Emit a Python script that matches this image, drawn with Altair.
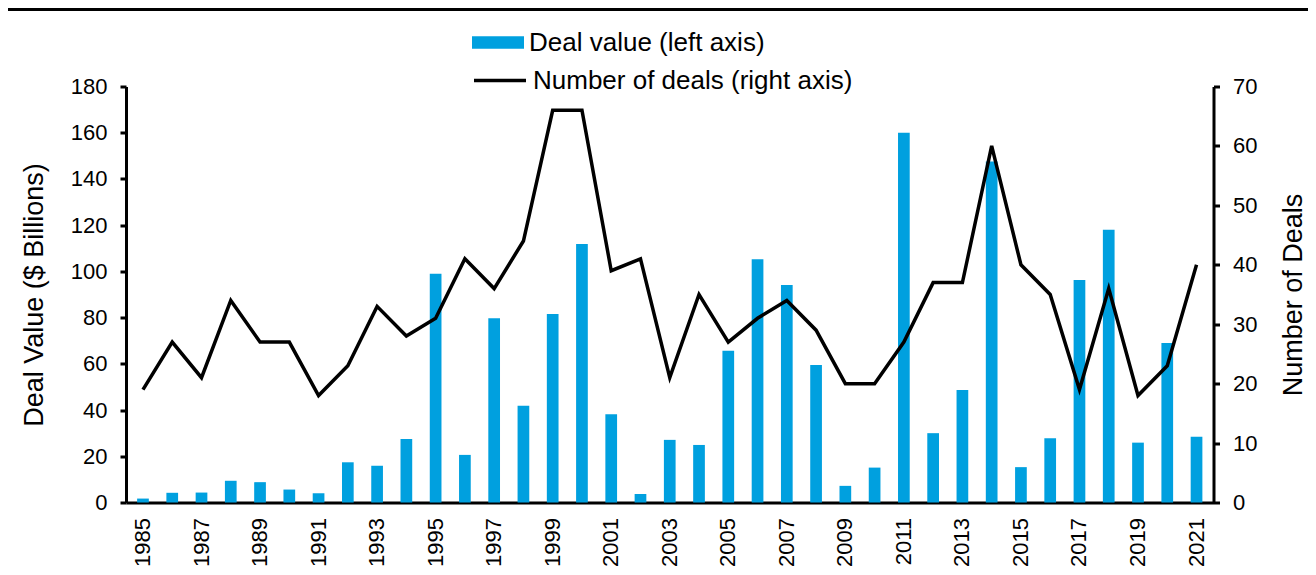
import altair as alt
import pandas as pd

years = [1985, 1986, 1987, 1988, 1989, 1990, 1991, 1992, 1993, 1994, 1995, 1996,
         1997, 1998, 1999, 2000, 2001, 2002, 2003, 2004, 2005, 2006, 2007, 2008,
         2009, 2010, 2011, 2012, 2013, 2014, 2015, 2016, 2017, 2018, 2019, 2020, 2021]
deal_value = [1.7, 4.2, 4.3, 9.4, 8.8, 5.6, 4.0, 17.4, 15.9, 27.5, 99.0, 20.6,
              79.7, 41.9, 81.6, 111.8, 38.2, 3.7, 27.1, 24.9, 65.7, 105.3, 94.1, 59.5,
              7.2, 15.1, 160.0, 30.0, 48.7, 147.5, 15.3, 27.8, 96.3, 118.0, 25.9, 69.0, 28.4]
num_deals = [19, 27, 21, 34, 27, 27, 18, 23, 33, 28, 31, 41, 36, 44, 66, 66, 39, 41,
             21, 35, 27, 31, 34, 29, 20, 20, 27, 37, 37, 60, 40, 35, 19, 36, 18, 23, 40]
left_ticks = [0, 20, 40, 60, 80, 100, 120, 140, 160, 180]
right_ticks = [0, 10, 20, 30, 40, 50, 60, 70]
bar_label = "Deal value (left axis)"
line_label = "Number of deals (right axis)"

df = pd.DataFrame({
    "year": years,
    "value": deal_value,
    "deals": num_deals,
    "s1": bar_label,
    "s2": line_label,
})

FONT = "Liberation Sans"
BLUE = "#00A0DF"

x = alt.X(
    "year:O",
    title=None,
    scale=alt.Scale(paddingInner=0.6, paddingOuter=0.38),
    axis=alt.Axis(
        values=years[::2], labelAngle=270, labelAlign="right", labelBaseline="middle",
        ticks=False, labelPadding=15, labelFontSize=22, labelFont=FONT, labelColor="black",
        domainColor="black", domainWidth=3,
    ),
)

bars = alt.Chart(df).mark_bar(color=BLUE).encode(
    x=x,
    y=alt.Y(
        "value:Q",
        scale=alt.Scale(domain=[0, 180], nice=False),
        axis=alt.Axis(
            title="Deal Value ($ Billions)", values=left_ticks, grid=False,
            tickSize=6, tickWidth=3, tickColor="black", domainColor="black", domainWidth=3,
            labelFontSize=22, labelFont=FONT, labelColor="black", labelPadding=13,
            titleFont=FONT, titleFontSize=27, titleFontWeight="normal", titleColor="black",
            titleX=-92, titleY=208, titleAngle=270, titleAlign="center", titleBaseline="middle",
        ),
    ),
    color=alt.Color(
        "s1:N",
        scale=alt.Scale(domain=[bar_label], range=[BLUE]),
        legend=alt.Legend(
            title=None, orient="none", legendX=346, legendY=-70,
            symbolType="M-1,-0.24L1,-0.24L1,0.24L-1,0.24Z", symbolSize=2704,
            symbolStrokeWidth=0, labelFont=FONT, labelFontSize=26, labelColor="black",
            labelOffset=5, padding=0, labelLimit=0,
        ),
    ),
)

line = alt.Chart(df).mark_line(color="black", strokeWidth=3.5, strokeJoin="miter").encode(
    x=x,
    y=alt.Y(
        "deals:Q",
        scale=alt.Scale(domain=[0, 70], nice=False),
        axis=alt.Axis(
            orient="right", title="Number of Deals", values=right_ticks, grid=False,
            tickSize=6, tickWidth=3, tickColor="black", domainColor="black", domainWidth=3,
            labelFontSize=22, labelFont=FONT, labelColor="black", labelPadding=13,
            titleFont=FONT, titleFontSize=27, titleFontWeight="normal", titleColor="black",
            titleX=80, titleY=208, titleAngle=270, titleAlign="center", titleBaseline="middle",
        ),
    ),
    stroke=alt.Stroke(
        "s2:N",
        scale=alt.Scale(domain=[line_label], range=["black"]),
        legend=alt.Legend(
            title=None, orient="none", legendX=346, legendY=-34,
            symbolType="stroke", symbolSize=2704, symbolStrokeWidth=3.5,
            labelFont=FONT, labelFontSize=26, labelColor="black",
            labelOffset=5, padding=0, labelLimit=0,
        ),
    ),
)

top_rule = alt.Chart(df).mark_rule(color="black", strokeWidth=2.5).encode(
    x=alt.value(-118), x2=alt.value(1190), y=alt.value(-77.5)
)

chart = (
    alt.layer(bars, line, top_rule)
    .resolve_scale(y="independent")
    .properties(
        width=1087.5,
        height=416,
        autosize=alt.AutoSizeParams(type="none"),
        padding={"left": 118, "top": 78.5, "right": 94, "bottom": 66},
        background="white",
    )
    .configure_view(stroke=None)
)

chart.save("out.html", embed_options={"renderer": "svg", "actions": False})
